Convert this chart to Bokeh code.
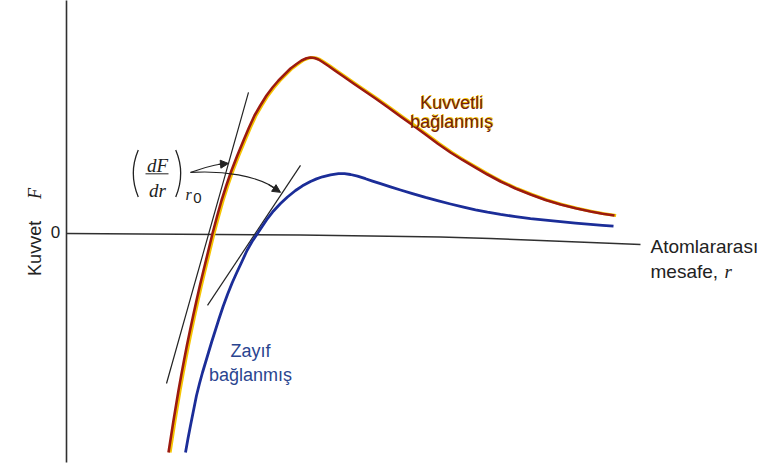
from bokeh.plotting import figure
from bokeh.models import Range1d, ColumnDataSource, Arrow, NormalHead
from bokeh.transform import dodge
from bokeh.core.properties import value
from bokeh.embed import file_html
from bokeh.resources import INLINE
import math

# Interatomic distance r (arbitrary units) and force F for the two bonding cases
strong_r = [1.02, 1.045, 1.07, 1.095, 1.12, 1.147, 1.175, 1.204, 1.235, 1.267, 1.30, 1.334,
            1.37, 1.414, 1.46, 1.505, 1.55, 1.598, 1.65, 1.708, 1.77, 1.825, 1.88, 1.938,
            2.00, 2.06, 2.12, 2.18, 2.24, 2.30, 2.35, 2.40, 2.44,
            2.48, 2.52, 2.56, 2.62, 2.69, 2.77, 2.87, 2.98, 3.09, 3.21, 3.34, 3.46, 3.59,
            3.71, 3.84, 3.96, 4.09, 4.21, 4.34, 4.49, 4.64, 4.79, 4.94, 5.09, 5.24, 5.36, 5.48]
strong_F = [-1.2514, -1.16, -1.0686, -0.9829, -0.8971, -0.8114, -0.7257, -0.64, -0.5543,
            -0.4686, -0.3829, -0.2971, -0.2114, -0.1086, 0.0, 0.0971, 0.1886, 0.2743, 0.36,
            0.4457, 0.5314, 0.6057, 0.6743, 0.7314, 0.7886, 0.8343, 0.8743, 0.9086, 0.9429,
            0.9686, 0.9886, 1.0011, 1.0057,
            1.0029, 0.9943, 0.98, 0.9571, 0.9286, 0.8971, 0.8571, 0.8143, 0.7714, 0.7229,
            0.6686, 0.62, 0.5657, 0.5143, 0.4629, 0.42, 0.3771, 0.3371, 0.2971, 0.2571,
            0.2229, 0.1914, 0.1657, 0.144, 0.1257, 0.1131, 0.1029]

weak_r = [1.19, 1.215, 1.24, 1.27, 1.30, 1.33, 1.36, 1.39, 1.42, 1.453, 1.488, 1.526, 1.566,
          1.61, 1.658, 1.703, 1.75, 1.805, 1.856, 1.91, 1.96, 2.01, 2.07, 2.14, 2.21, 2.29,
          2.36, 2.44, 2.50, 2.56, 2.64, 2.72, 2.78, 2.84, 2.91, 2.99, 3.06, 3.14, 3.24,
          3.34, 3.46, 3.59, 3.71, 3.84, 3.96, 4.09, 4.21, 4.34, 4.49, 4.64, 4.79, 4.94,
          5.09, 5.24, 5.36, 5.47]
weak_F = [-1.2514, -1.1714, -1.0971, -1.0114, -0.9257, -0.8571, -0.7943, -0.7371, -0.68,
          -0.6171, -0.5543, -0.4857, -0.4171, -0.3486, -0.28, -0.2229, -0.1657, -0.0971,
          -0.0457, 0.0, 0.0429, 0.0857, 0.1286, 0.1714, 0.2086, 0.2457, 0.2726, 0.2971,
          0.312, 0.324, 0.3354, 0.3417, 0.3417, 0.3371, 0.3274, 0.3131, 0.2994, 0.2846,
          0.2663, 0.2486, 0.228, 0.2063, 0.188, 0.1686, 0.152, 0.1354, 0.1217, 0.1091,
          0.0966, 0.0851, 0.076, 0.0674, 0.0594, 0.052, 0.0469, 0.0417]

# Tangent segments (dF/dr at r0) for each curve
strong_tan_r = [1.00, 1.82]
strong_tan_F = [-0.857, 0.806]
weak_tan_r = [1.41, 2.34]
weak_tan_F = [-0.411, 0.389]

# Horizontal (r) axis trace and vertical (F) axis
r_axis_r = [0.0, 2.34, 3.74, 4.24, 4.74, 5.24, 5.74]
r_axis_F = [0.0, -0.0086, -0.02, -0.0286, -0.04, -0.0514, -0.063]
F_axis_r = [0.0, 0.0]
F_axis_F = [1.34, -1.309]

RED = "#9c1a10"
GOLD = "#f5c400"
BLUE = "#1b2d98"
AXIS = "#303030"
INK = "#222222"

p = figure(width=783, height=466, output_backend="svg", toolbar_location=None,
           x_range=Range1d(-0.66, 7.17), y_range=Range1d(-1.3314, 1.3314),
           x_axis_type=None, y_axis_type=None, min_border=0)
p.grid.visible = False
p.outline_line_color = None
p.background_fill_color = "white"
p.border_fill_color = "white"

# axes
p.line(F_axis_r, F_axis_F, line_color=AXIS, line_width=1.6)
p.line(r_axis_r, r_axis_F, line_color=AXIS, line_width=1.6, line_join="round")

# tangent lines
p.line(strong_tan_r, strong_tan_F, line_color=INK, line_width=1.2)
p.line(weak_tan_r, weak_tan_F, line_color=INK, line_width=1.2)

# strong bonding curve with its golden edge
strong = ColumnDataSource(dict(r=strong_r, F=strong_F))
p.line(x=dodge("r", 0.016, range=p.x_range), y="F", source=strong,
       line_color=GOLD, line_width=3, line_join="round")
p.line(x="r", y="F", source=strong, line_color=RED, line_width=2.6, line_join="round")

# weak bonding curve
weak = ColumnDataSource(dict(r=weak_r, F=weak_F))
p.line(x="r", y="F", source=weak, line_color=BLUE, line_width=2.8, line_join="round")

# curved pointers from the derivative label to both tangents
p.bezier(x0=[1.24, 1.24], y0=[0.349, 0.349], x1=[1.60, 2.13], y1=[0.40, 0.24],
         cx0=[1.39, 1.54], cy0=[0.377, 0.36], cx1=[1.49, 1.92], cy1=[0.40, 0.337],
         line_color=INK, line_width=1.1)
p.add_layout(Arrow(x_start=1.52, y_start=0.395, x_end=1.62, y_end=0.40,
                   line_width=1.1, line_color=INK,
                   end=NormalHead(size=8, fill_color=INK, line_color=INK, line_width=1)))
p.add_layout(Arrow(x_start=2.02, y_start=0.28, x_end=2.14, y_end=0.235,
                   line_width=1.1, line_color=INK,
                   end=NormalHead(size=8, fill_color=INK, line_color=INK, line_width=1)))

SANS = value("Liberation Sans")
SERIF = value("Liberation Serif")

# derivative label (dF/dr)_r0 with thin arc brackets
p.text(x=[0.91], y=[0.39], text=["dF"], text_font=SERIF, text_font_style="italic",
       text_font_size="19px", text_align="center", text_baseline="alphabetic", text_color=INK)
p.text(x=[0.91], y=[0.245], text=["dr"], text_font=SERIF, text_font_style="italic",
       text_font_size="19px", text_align="center", text_baseline="alphabetic", text_color=INK)
p.line([0.79, 1.02], [0.341, 0.341], line_color=INK, line_width=1)
bracket_a = math.radians(23)
p.arc(x=[1.27], y=[0.343], radius=60, radius_units="screen",
      start_angle=math.pi - bracket_a, end_angle=math.pi + bracket_a,
      line_color=INK, line_width=1.3)
p.arc(x=[0.54], y=[0.343], radius=60, radius_units="screen",
      start_angle=-bracket_a, end_angle=bracket_a, line_color=INK, line_width=1.3)
p.text(x=[1.22], y=[0.225], text=["r"], text_font=SERIF, text_font_style="italic",
       text_font_size="16px", text_align="center", text_baseline="alphabetic", text_color=INK)
p.text(x=[1.31], y=[0.203], text=["0"], text_font=SANS,
       text_font_size="15px", text_align="center", text_baseline="alphabetic", text_color=INK)

# curve labels
for dx, dy, col in [(1, -1, GOLD), (0, 0, "#74200a")]:
    p.text(x=[3.85, 3.85], y=[0.743, 0.635], text=["Kuvvetli", "bağlanmış"], text_font=SANS,
           text_font_size="18px", text_align="center", text_baseline="alphabetic",
           text_color=col, x_offset=dx, y_offset=dy)
p.text(x=[1.84, 1.84], y=[-0.674, -0.811], text=["Zayıf", "bağlanmış"], text_font=SANS,
       text_font_size="18px", text_align="center", text_baseline="alphabetic", text_color="#2a4590")

# axis titles
p.text(x=[5.84], y=[-0.074], text=["Atomlararası"], text_font=SANS, text_font_size="19px",
       text_align="left", text_baseline="alphabetic", text_color=INK)
p.text(x=[5.84], y=[-0.217], text=["mesafe,"], text_font=SANS, text_font_size="19px",
       text_align="left", text_baseline="alphabetic", text_color=INK)
p.text(x=[6.58], y=[-0.217], text=["r"], text_font=SERIF, text_font_style="italic",
       text_font_size="19px", text_align="left", text_baseline="alphabetic", text_color=INK)
p.text(x=[-0.11], y=[0.006], text=["0"], text_font=SANS, text_font_size="17px",
       text_align="center", text_baseline="middle", text_color=INK)
p.text(x=[-0.32], y=[-0.085], text=["Kuvvet"], text_font=SANS, text_font_size="18px",
       text_align="center", text_baseline="alphabetic", angle=math.pi / 2, text_color=INK)
p.text(x=[-0.32], y=[0.229], text=["F"], text_font=SERIF, text_font_style="italic",
       text_font_size="18px", text_align="center", text_baseline="alphabetic", angle=math.pi / 2,
       text_color=INK)

open("out.html", "w").write(file_html(p, INLINE))
